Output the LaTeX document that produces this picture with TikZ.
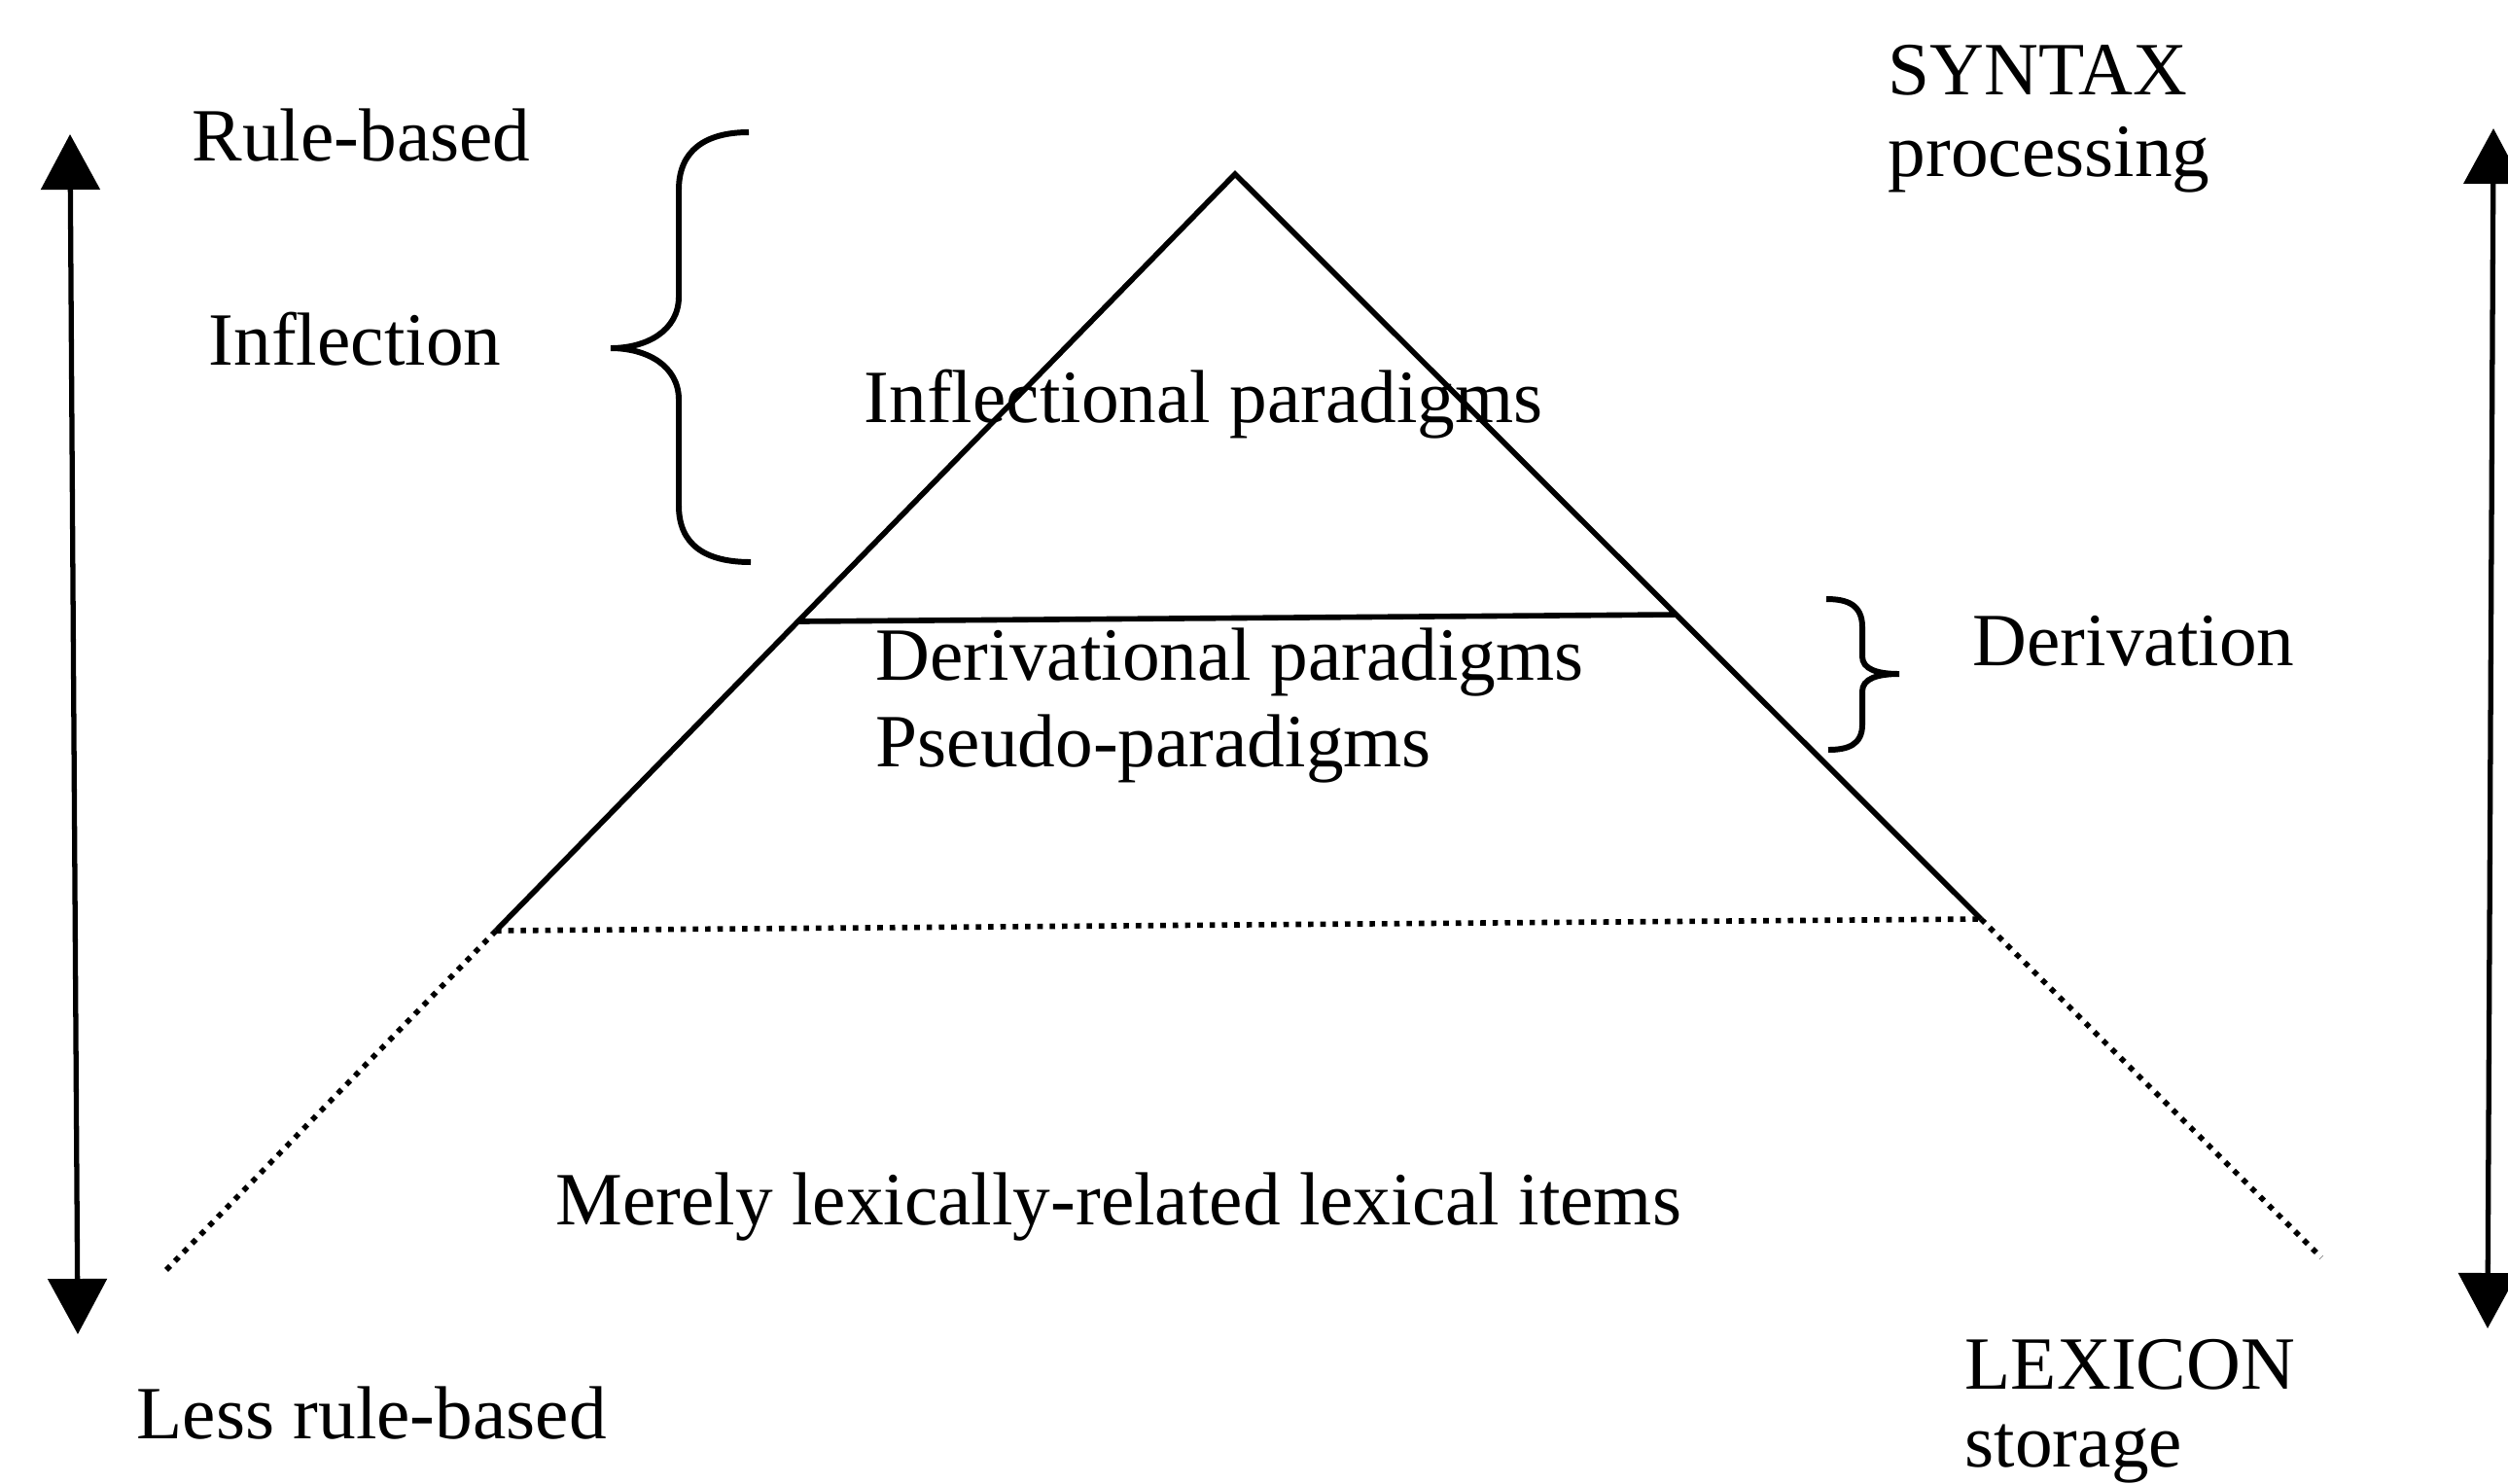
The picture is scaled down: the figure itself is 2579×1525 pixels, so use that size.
\documentclass[tikz,border=0pt]{standalone}
\usepackage{fontspec}
\setmainfont{Liberation Serif}
\usetikzlibrary{arrows.meta}

\begin{document}
\begin{tikzpicture}[
  x=0.1mm, y=-0.1mm,
  font=\fontsize{22}{26}\selectfont,
  lbl/.style={anchor=base west, inner sep=0pt},
  edge/.style={line width=1.6pt},
  faint/.style={line width=1.6pt, dotted},
  span/.style={{Triangle[length=5.7mm, width=6mm]}-{Triangle[length=5.7mm, width=6mm]}, line width=1.5pt},
  brace/.style={line width=1.7pt}
]
  \useasboundingbox (0,0) rectangle (2579,1525);

  % pyramid corners
  \coordinate (apex) at (1270,179);
  \coordinate (midL) at (822,639);
  \coordinate (midR) at (1722,632);
  \coordinate (baseL) at (510,957);
  \coordinate (baseR) at (2037,945);
  \coordinate (footL) at (167,1310);
  \coordinate (footR) at (2387,1293);

  \draw[edge] (baseL) -- (apex) -- (baseR);
  \draw[edge] (midL) -- (midR);
  \draw[faint] (baseL) -- (baseR);
  \draw[faint] (baseL) -- (footL);
  \draw[faint] (baseR) -- (footR);

  % scale arrows
  \coordinate (leftTop) at (72,138);
  \coordinate (leftBot) at (80,1372);
  \coordinate (rightTop) at (2564,132);
  \coordinate (rightBot) at (2558,1366);
  \draw[span] (leftTop) -- (leftBot);
  \draw[span] (rightTop) -- (rightBot);

  % braces
  \draw[brace] (770,136) .. controls (725,136) and (698,155) .. (698,195)
    -- (698,305) .. controls (698,340) and (665,358) .. (628,358)
    .. controls (665,358) and (698,376) .. (698,411)
    -- (698,520) .. controls (698,560) and (725,578) .. (772,578);
  \draw[brace] (1878,616) .. controls (1900,616) and (1915,622) .. (1915,645)
    -- (1915,675) .. controls (1915,688) and (1930,693) .. (1953,693)
    .. controls (1930,693) and (1915,698) .. (1915,711)
    -- (1915,745) .. controls (1915,766) and (1900,771) .. (1880,771);

  % labels
  \node[lbl] (rule) at (197,165) {Rule-based};
  \node[lbl] (infl) at (214,375) {Inflection};
  \node[lbl] (syntax) at (1941,97) {SYNTAX};
  \node[lbl] (proc) at (1941,181) {processing};
  \node[lbl] (inflpar) at (888,434) {Inflectional paradigms};
  \node[lbl] (derpar) at (900,699) {Derivational paradigms};
  \node[lbl] (pseudo) at (900,788) {Pseudo-paradigms};
  \node[lbl] (deriv) at (2028,684) {Derivation};
  \node[lbl] (merely) at (571,1259) {Merely lexically-related lexical items};
  \node[lbl] (lexicon) at (2020,1428) {LEXICON};
  \node[lbl] (storage) at (2020,1508) {storage};
  \node[lbl] (less) at (140,1479) {Less rule-based};
\end{tikzpicture}
\end{document}
